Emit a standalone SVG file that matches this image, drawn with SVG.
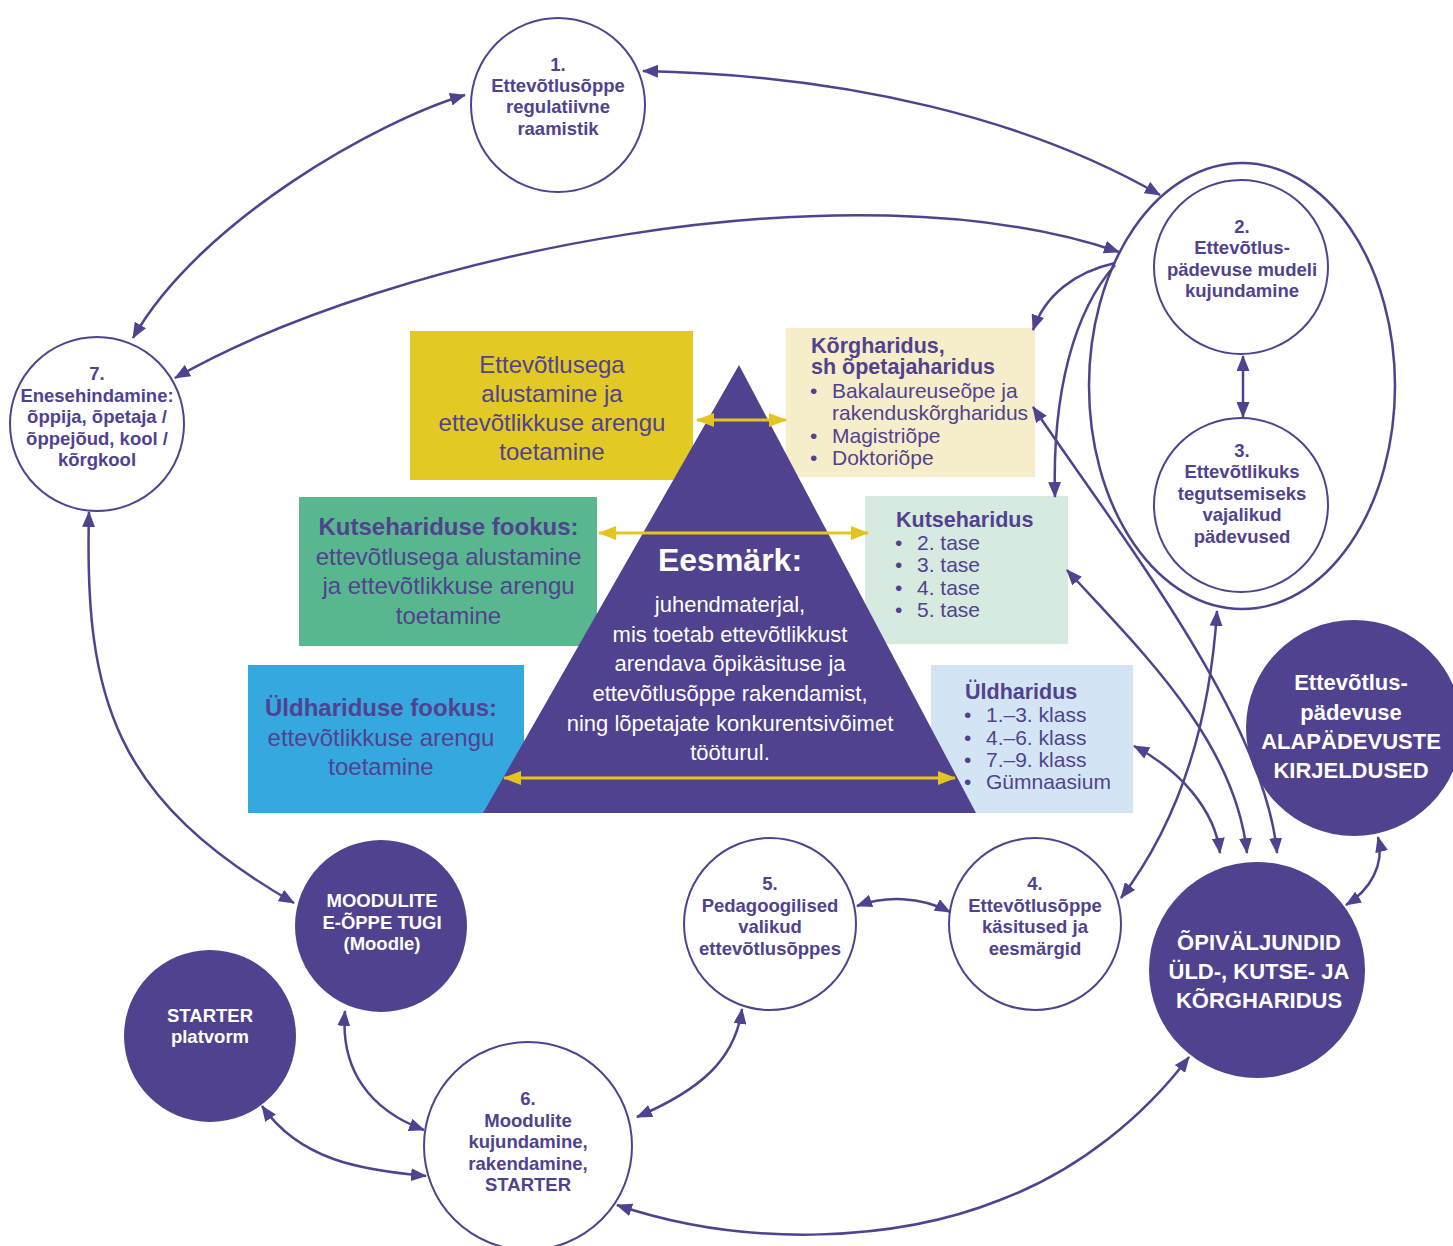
<svg xmlns="http://www.w3.org/2000/svg" width="1453" height="1246" viewBox="0 0 1453 1246">
<style>
.bg{fill:#ffffff}
.node{fill:#ffffff;stroke:#51428f;stroke-width:2}
.dark{fill:#51428f;stroke:none}
.nt{font-family:"Liberation Sans",Arial,sans-serif;font-weight:bold;font-size:18.5px;fill:#51428f;text-anchor:middle}
.wt{font-family:"Liberation Sans",Arial,sans-serif;font-weight:bold;font-size:18.5px;fill:#ffffff;text-anchor:middle}
.wt2{font-family:"Liberation Sans",Arial,sans-serif;font-weight:bold;font-size:22px;fill:#ffffff;text-anchor:middle}
.bx{font-family:"Liberation Sans",Arial,sans-serif;font-size:24px;fill:#51428f;text-anchor:middle}
.bxb{font-weight:bold}
.lt{font-family:"Liberation Sans",Arial,sans-serif;font-size:21px;fill:#51428f}
.ltb{font-weight:bold;font-size:21.5px}
.pt{font-family:"Liberation Sans",Arial,sans-serif;font-size:22px;fill:#ffffff;text-anchor:middle}
.ptb{font-weight:bold;font-size:32px}
.conn{fill:none;stroke:#51428f;stroke-width:2.5}
.gold{fill:none;stroke:#e4c41e;stroke-width:3}
</style>
<defs>
<marker id="ah" viewBox="0 0 16 13" refX="15" refY="6.5" markerWidth="16" markerHeight="13" markerUnits="userSpaceOnUse" orient="auto-start-reverse">
<path d="M0,0 L16,6.5 L0,13 z" fill="#51428f"/>
</marker>
<marker id="gh" viewBox="0 0 18 14" refX="17" refY="7" markerWidth="18" markerHeight="14" markerUnits="userSpaceOnUse" orient="auto-start-reverse">
<path d="M0,0 L18,7 L0,14 z" fill="#e4c41e"/>
</marker>
</defs>
<rect class="bg" x="0" y="0" width="1453" height="1246"/>

<g id="box-yellow">
<rect x="410" y="331" width="283" height="149" fill="#e2c923"/>
<text class="bx"><tspan x="552" y="372.5">Ettevõtlusega</tspan><tspan x="552" y="401.5">alustamine ja</tspan><tspan x="552" y="431">ettevõtlikkuse arengu</tspan><tspan x="552" y="460">toetamine</tspan></text>
</g>
<g id="box-green">
<rect x="299" y="497" width="298" height="149" fill="#58b78e"/>
<text class="bx"><tspan class="bxb" x="448.5" y="535">Kutsehariduse fookus:</tspan><tspan x="448.5" y="564.5">ettevõtlusega alustamine</tspan><tspan x="448.5" y="594">ja ettevõtlikkuse arengu</tspan><tspan x="448.5" y="623.5">toetamine</tspan></text>
</g>
<g id="box-blue">
<rect x="248" y="665" width="276" height="148" fill="#35a8e0"/>
<text class="bx"><tspan class="bxb" x="381" y="716">Üldhariduse fookus:</tspan><tspan x="381" y="745.5">ettevõtlikkuse arengu</tspan><tspan x="381" y="774.5">toetamine</tspan></text>
</g>
<g id="box-korg">
<rect x="786" y="328" width="249" height="149" fill="#f6eecb"/>
<text class="lt"><tspan class="ltb" x="811" y="352.5">Kõrgharidus,</tspan><tspan class="ltb" x="811" y="374">sh õpetajaharidus</tspan></text>
<text class="lt"><tspan x="810" y="397.5">•</tspan><tspan x="810" y="442.5">•</tspan><tspan x="810" y="464.5">•</tspan></text>
<text class="lt"><tspan x="832" y="397.5">Bakalaureuseõpe ja</tspan><tspan x="832" y="419.5">rakenduskõrgharidus</tspan><tspan x="832" y="442.5">Magistriõpe</tspan><tspan x="832" y="464.5">Doktoriõpe</tspan></text>
</g>
<g id="box-kutse">
<rect x="865" y="496" width="203" height="148" fill="#d6eadf"/>
<text class="lt"><tspan class="ltb" x="896" y="526.5">Kutseharidus</tspan></text>
<text class="lt"><tspan x="895" y="549.5">•</tspan><tspan x="895" y="572">•</tspan><tspan x="895" y="594.5">•</tspan><tspan x="895" y="617">•</tspan></text>
<text class="lt"><tspan x="917" y="549.5">2. tase</tspan><tspan x="917" y="572">3. tase</tspan><tspan x="917" y="594.5">4. tase</tspan><tspan x="917" y="617">5. tase</tspan></text>
</g>
<g id="box-uld">
<rect x="931" y="665" width="202" height="148" fill="#d3e5f5"/>
<text class="lt"><tspan class="ltb" x="965" y="699">Üldharidus</tspan></text>
<text class="lt"><tspan x="964" y="722">•</tspan><tspan x="964" y="744.5">•</tspan><tspan x="964" y="767">•</tspan><tspan x="964" y="789">•</tspan></text>
<text class="lt"><tspan x="986" y="722">1.–3. klass</tspan><tspan x="986" y="744.5">4.–6. klass</tspan><tspan x="986" y="767">7.–9. klass</tspan><tspan x="986" y="789">Gümnaasium</tspan></text>
</g>

<g id="pyramid">
<polygon points="739,365 976,813 483,813" fill="#51428f"/>
<path class="gold" d="M697,420 L786,420" marker-start="url(#gh)" marker-end="url(#gh)"/>
<path class="gold" d="M599,533 L868,533" marker-start="url(#gh)" marker-end="url(#gh)"/>
<path class="gold" d="M504,778 L955,778" marker-start="url(#gh)" marker-end="url(#gh)"/>
<text class="pt"><tspan class="ptb" x="730" y="571">Eesmärk:</tspan><tspan x="730" y="612">juhendmaterjal,</tspan><tspan x="730" y="641.5">mis toetab ettevõtlikkust</tspan><tspan x="730" y="671">arendava õpikäsituse ja</tspan><tspan x="730" y="701">ettevõtlusõppe rakendamist,</tspan><tspan x="730" y="730.5">ning lõpetajate konkurentsivõimet</tspan><tspan x="730" y="760">tööturul.</tspan></text>
</g>

<g id="node1">
<circle class="node" cx="558" cy="105" r="87"/>
<text class="nt"><tspan x="558" y="70.5">1.</tspan><tspan x="558" y="92">Ettevõtlusõppe</tspan><tspan x="558" y="113">regulatiivne</tspan><tspan x="558" y="134.5">raamistik</tspan></text>
</g>
<g id="group23">
<ellipse cx="1242" cy="386" rx="153" ry="223" fill="none" stroke="#51428f" stroke-width="2.5"/>
</g>
<g id="node2">
<circle class="node" cx="1241" cy="267" r="87"/>
<text class="nt"><tspan x="1242" y="232.5">2.</tspan><tspan x="1242" y="254">Ettevõtlus-</tspan><tspan x="1242" y="275.5">pädevuse mudeli</tspan><tspan x="1242" y="297">kujundamine</tspan></text>
</g>
<g id="node3">
<circle class="node" cx="1241" cy="505" r="87"/>
<text class="nt"><tspan x="1242" y="456.5">3.</tspan><tspan x="1242" y="478">Ettevõtlikuks</tspan><tspan x="1242" y="499.5">tegutsemiseks</tspan><tspan x="1242" y="521">vajalikud</tspan><tspan x="1242" y="542.5">pädevused</tspan></text>
</g>
<g id="node7">
<circle class="node" cx="97" cy="424" r="87"/>
<text class="nt"><tspan x="97" y="380">7.</tspan><tspan x="97" y="401.5">Enesehindamine:</tspan><tspan x="97" y="423">õppija, õpetaja /</tspan><tspan x="97" y="444.5">õppejõud, kool /</tspan><tspan x="97" y="466">kõrgkool</tspan></text>
</g>
<g id="node5">
<circle class="node" cx="770" cy="924" r="86"/>
<text class="nt"><tspan x="770" y="890">5.</tspan><tspan x="770" y="912">Pedagoogilised</tspan><tspan x="770" y="933">valikud</tspan><tspan x="770" y="955">ettevõtlusõppes</tspan></text>
</g>
<g id="node4">
<circle class="node" cx="1035" cy="924" r="86"/>
<text class="nt"><tspan x="1035" y="890">4.</tspan><tspan x="1035" y="912">Ettevõtlusõppe</tspan><tspan x="1035" y="933">käsitused ja</tspan><tspan x="1035" y="955">eesmärgid</tspan></text>
</g>
<g id="node6">
<circle class="node" cx="528" cy="1146" r="104"/>
<text class="nt"><tspan x="528" y="1105">6.</tspan><tspan x="528" y="1126.5">Moodulite</tspan><tspan x="528" y="1148">kujundamine,</tspan><tspan x="528" y="1169.5">rakendamine,</tspan><tspan x="528" y="1191">STARTER</tspan></text>
</g>
<g id="node-moodle">
<circle class="dark" cx="381" cy="926" r="86"/>
<text class="wt"><tspan x="382" y="907">MOODULITE</tspan><tspan x="382" y="928.5">E-ÕPPE TUGI</tspan><tspan x="382" y="950">(Moodle)</tspan></text>
</g>
<g id="node-starter">
<circle class="dark" cx="210" cy="1036" r="86"/>
<text class="wt"><tspan x="210" y="1021.5">STARTER</tspan><tspan x="210" y="1043">platvorm</tspan></text>
</g>
<g id="node-opivaljundid">
<circle class="dark" cx="1257" cy="970" r="108"/>
<text class="wt2"><tspan x="1259" y="950">ÕPIVÄLJUNDID</tspan><tspan x="1259" y="979">ÜLD-, KUTSE- JA</tspan><tspan x="1259" y="1008">KÕRGHARIDUS</tspan></text>
</g>
<g id="node-alapadevused">
<circle class="dark" cx="1354" cy="728" r="108"/>
<text class="wt2"><tspan x="1351" y="690">Ettevõtlus-</tspan><tspan x="1351" y="719.5">pädevuse</tspan><tspan x="1351" y="749">ALAPÄDEVUSTE</tspan><tspan x="1351" y="778">KIRJELDUSED</tspan></text>
</g>

<g id="connectors">
<path class="conn" d="M465,95 C380,120 200,220 133,338" marker-start="url(#ah)" marker-end="url(#ah)"/>
<path class="conn" d="M643,71 C850,75 1030,120 1160,195" marker-start="url(#ah)" marker-end="url(#ah)"/>
<path class="conn" d="M175,378 C390,255 850,160 1119,252" marker-start="url(#ah)" marker-end="url(#ah)"/>
<path class="conn" d="M1115,263 C1075,272 1045,295 1033,330" marker-end="url(#ah)"/>
<path class="conn" d="M1115,265 C1075,310 1052,390 1055,497" marker-end="url(#ah)"/>
<path class="conn" d="M1243,356 L1243,417" marker-start="url(#ah)" marker-end="url(#ah)"/>
<path class="conn" d="M1033,407 C1120,535 1265,720 1277,853" marker-start="url(#ah)" marker-end="url(#ah)"/>
<path class="conn" d="M1067,570 C1140,650 1235,740 1247,853" marker-start="url(#ah)" marker-end="url(#ah)"/>
<path class="conn" d="M1134,746 C1180,770 1215,810 1220,853" marker-start="url(#ah)" marker-end="url(#ah)"/>
<path class="conn" d="M1217,611 C1210,720 1180,820 1121,898" marker-start="url(#ah)" marker-end="url(#ah)"/>
<path class="conn" d="M857,906 C885,896 920,896 950,912" marker-start="url(#ah)" marker-end="url(#ah)"/>
<path class="conn" d="M742,1009 C735,1060 700,1090 637,1117" marker-start="url(#ah)" marker-end="url(#ah)"/>
<path class="conn" d="M617,1205 C750,1250 900,1240 1000,1200 C1080,1170 1145,1115 1189,1057" marker-start="url(#ah)" marker-end="url(#ah)"/>
<path class="conn" d="M1378,837 C1385,865 1370,890 1346,905" marker-start="url(#ah)" marker-end="url(#ah)"/>
<path class="conn" d="M89,512 C84,700 115,800 294,903" marker-start="url(#ah)" marker-end="url(#ah)"/>
<path class="conn" d="M345,1011 C340,1070 370,1110 424,1130" marker-start="url(#ah)" marker-end="url(#ah)"/>
<path class="conn" d="M262,1106 C300,1160 360,1170 426,1176" marker-start="url(#ah)" marker-end="url(#ah)"/>
</g>
</svg>
